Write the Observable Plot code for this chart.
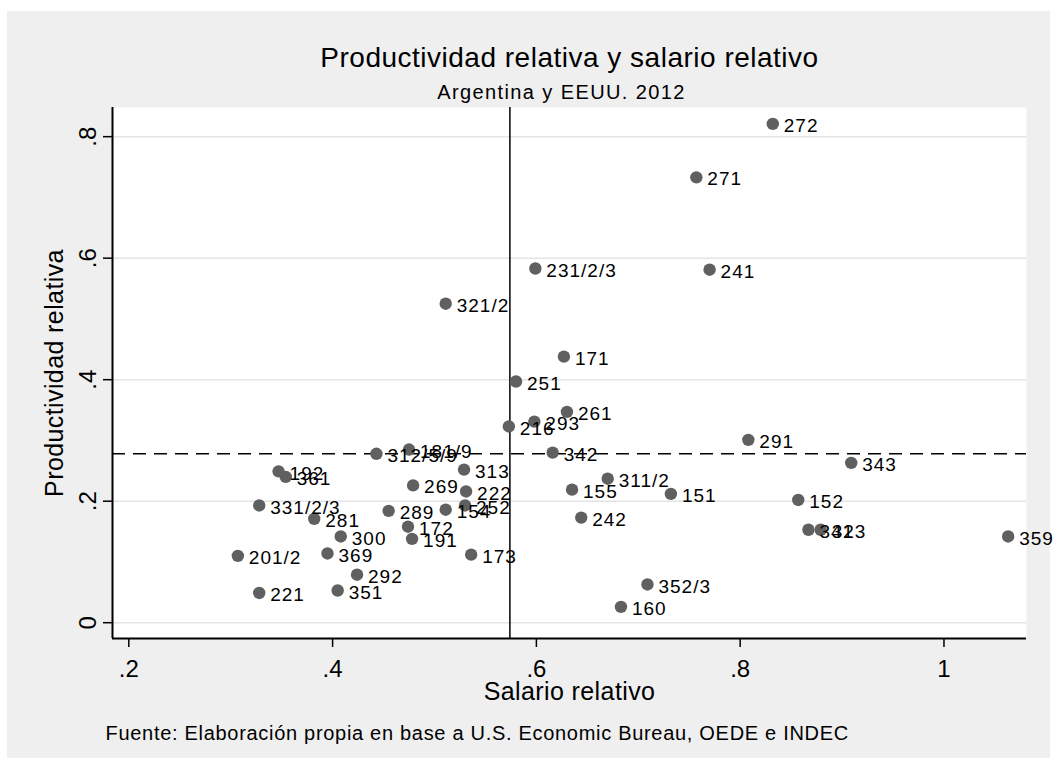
<!DOCTYPE html>
<html><head><meta charset="utf-8">
<script src="https://cdn.jsdelivr.net/npm/d3@7"></script>
<script src="https://cdn.jsdelivr.net/npm/@observablehq/plot@0.6"></script>
<style>
html,body{margin:0;padding:0;background:#fff;}
#wrap{position:relative;width:1057px;height:768px;overflow:hidden;}
#bg{position:absolute;left:7px;top:11px;width:1043px;height:747px;background:#efefef;}
#chart{position:absolute;left:0;top:0;}
</style></head><body>
<div id="wrap"><div id="bg"></div><div id="chart"></div></div>
<script>
// Industry codes (labels)
const ids = ["272","271","241","231/2/3","321/2","171","251","261","293","216","291","342","181/9","312/5/9","343","192","361","313","311/2","269","222","155","151","152","331/2/3","252","154","289","281","242","172","341","323","359","300","191","201/2","369","173","292","352/3","221","351","160"];
// Salario relativo (x)
const salario = [0.832,0.757,0.770,0.599,0.511,0.627,0.580,0.630,0.598,0.573,0.808,0.616,0.475,0.443,0.909,0.347,0.354,0.529,0.670,0.479,0.531,0.635,0.732,0.857,0.328,0.530,0.511,0.455,0.382,0.644,0.474,0.867,0.879,1.063,0.408,0.478,0.307,0.395,0.536,0.424,0.709,0.328,0.405,0.683];
// Productividad relativa (y)
const productividad = [0.821,0.733,0.581,0.583,0.525,0.438,0.397,0.347,0.331,0.323,0.301,0.280,0.285,0.278,0.263,0.249,0.240,0.252,0.237,0.226,0.216,0.219,0.212,0.202,0.193,0.193,0.186,0.184,0.171,0.173,0.158,0.153,0.153,0.142,0.142,0.138,0.110,0.114,0.112,0.079,0.063,0.049,0.053,0.026];
// Reference lines (means)
const refSalario = [0.574];
const refProductividad = [0.278];
// Axis ticks
const xTicks = [0.2, 0.4, 0.6, 0.8, 1];
const yTicks = [0, 0.2, 0.4, 0.6, 0.8];
const xDomain = [0.184, 1.081];
const yDomain = [-0.026, 0.848];

const title = "Productividad relativa y salario relativo";
const subtitle = "Argentina y EEUU. 2012";
const xLabel = "Salario relativo";
const yLabel = "Productividad relativa";
const note = "Fuente: Elaboración propia en base a U.S. Economic Bureau, OEDE e INDEC";

const data = ids.map((id, i) => ({id, salario: salario[i], productividad: productividad[i]}));
const fmt = d => d === 0 ? "0" : d === 1 ? "1" : String(d).replace(/^0/, "");

const plot = Plot.plot({
  width: 1057, height: 768,
  marginLeft: 112, marginRight: 31, marginTop: 107, marginBottom: 130,
  style: {background: "transparent", fontFamily: "'Liberation Sans', Arial, sans-serif", color: "#000"},
  x: {domain: xDomain},
  y: {domain: yDomain},
  marks: [
    Plot.frame({fill: "white", stroke: null}),
    Plot.gridY(yTicks, {stroke: "#e4e4e4", strokeOpacity: 1, strokeWidth: 1.5}),
    Plot.ruleX(refSalario, {stroke: "black", strokeWidth: 1.5}),
    Plot.ruleY(refProductividad, {stroke: "black", strokeWidth: 1.5, strokeDasharray: "13,8"}),
    Plot.ruleX([xDomain[0]], {stroke: "black", strokeWidth: 2}),
    Plot.ruleY([yDomain[0]], {stroke: "black", strokeWidth: 2}),
    Plot.axisX(xTicks, {tickSize: 9, tickPadding: 12, fontSize: 24, tickFormat: fmt, label: null, strokeWidth: 1.5}),
    Plot.axisY(yTicks, {tickSize: 9, tickFormat: () => "", label: null, strokeWidth: 1.5}),
    Plot.text(yTicks, {y: d => d, frameAnchor: "left", text: fmt, rotate: -90, dx: -24, fontSize: 24, textAnchor: "middle", lineAnchor: "middle"}),
    Plot.dot(data, {x: "salario", y: "productividad", r: 6.2, fill: "#606060", stroke: null}),
    Plot.text(data, {x: "salario", y: "productividad", text: "id", textAnchor: "start", lineAnchor: "middle", dx: 11, dy: 2, fontSize: 19, fill: "black"}),
    Plot.text([xLabel], {text: d => d, frameAnchor: "bottom", dy: 53, fontSize: 25, textAnchor: "middle", lineAnchor: "middle"}),
    Plot.text([yLabel], {text: d => d, frameAnchor: "left", rotate: -90, dx: -58, fontSize: 25, textAnchor: "middle", lineAnchor: "middle"}),
    Plot.text([title], {text: d => d, frameAnchor: "top", dy: -49, fontSize: 28, textAnchor: "middle", lineAnchor: "middle"}),
    Plot.text([subtitle], {text: d => d, frameAnchor: "top", dx: -8, dy: -15, fontSize: 20, textAnchor: "middle", lineAnchor: "middle"}),
    Plot.text([note], {text: d => d, frameAnchor: "bottom-left", textAnchor: "start", lineAnchor: "middle", dx: -7, dy: 95, fontSize: 20})
  ]
});
document.getElementById("chart").appendChild(plot);

// widen glyph spacing to match the reference's wider text rendering
const spacing = new Map([[title, 0.5], [subtitle, 1.4], [note, 0.7], [xLabel, 0.4], [yLabel, 0.4]]);
const idSet = new Set(ids);
d3.select(plot).selectAll("text").each(function() {
  const t = this.textContent;
  if (spacing.has(t)) this.setAttribute("letter-spacing", spacing.get(t));
  else if (idSet.has(t)) this.setAttribute("letter-spacing", 1);
});
</script>
</body></html>
